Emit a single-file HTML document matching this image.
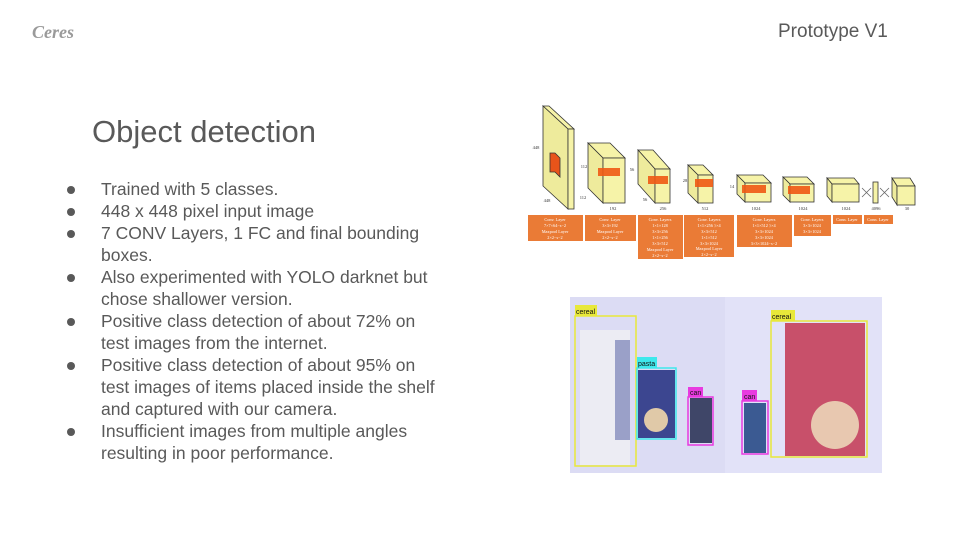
<!DOCTYPE html>
<html><head><meta charset="utf-8"><style>
body{margin:0;width:960px;height:540px;background:#fff;overflow:hidden;position:relative;font-family:"Liberation Sans",sans-serif}
.logo{position:absolute;left:32px;top:22px;font:italic bold 18px "Liberation Serif",serif;color:#9a9a9a}
.proto{position:absolute;left:778px;top:21px;font-size:19px;color:#595959}
h1{position:absolute;left:92px;top:114px;margin:0;font-weight:normal;font-size:31px;color:#595959}
ul{position:absolute;left:64px;top:178px;margin:0;padding:0;list-style:none;width:374px;font-size:17.5px;line-height:22px;color:#595959}
li{position:relative;padding-left:37px}
li:before{content:"";position:absolute;left:3px;top:8px;width:8px;height:8px;border-radius:50%;background:#595959}
svg{position:absolute;left:0;top:0}
</style></head><body>
<div class="logo">Ceres</div>
<div class="proto">Prototype V1</div>
<h1>Object detection</h1>
<ul>
<li>Trained with 5 classes.</li>
<li>448 x 448 pixel input image</li>
<li>7 CONV Layers, 1 FC and final bounding boxes.</li>
<li>Also experimented with YOLO darknet but chose shallower version.</li>
<li>Positive class detection of about 72% on test images from the internet.</li>
<li>Positive class detection of about 95% on test images of items placed inside the shelf and captured with our camera.</li>
<li>Insufficient images from multiple angles resulting in poor performance.</li>
</ul>
<svg width="960" height="540" font-family="Liberation Serif,serif">
<g stroke="#333" stroke-width="0.8" fill="#f6f3a8">
<polygon points="543,106 549,106 574,129 568,129"/>
<polygon points="543,106 568,129 568,209 543,186" fill="#eeeb9c"/>
<rect x="568" y="129" width="6" height="80"/>
<polygon points="550,153 555,153 560,158 560,177 555,172 550,172" fill="#e8541a"/>
<polygon points="588,143 610,143 625,158 603,158"/><polygon points="588,143 603,158 603,203 588,188" fill="#eeeb9c"/><rect x="603" y="158" width="22" height="45"/>
<polygon points="638,150 653,150 670,169 655,169"/><polygon points="638,150 655,169 655,203 638,184" fill="#eeeb9c"/><rect x="655" y="169" width="15" height="34"/>
<polygon points="688,165 703,165 713,175 698,175"/><polygon points="688,165 698,175 698,203 688,193" fill="#eeeb9c"/><rect x="698" y="175" width="15" height="28"/>
<polygon points="737,175 763,175 771,183 745,183"/><polygon points="737,175 745,183 745,202 737,194" fill="#eeeb9c"/><rect x="745" y="183" width="26" height="19"/>
<polygon points="783,177 807,177 814,184 790,184"/><polygon points="783,177 790,184 790,202 783,195" fill="#eeeb9c"/><rect x="790" y="184" width="24" height="18"/>
<polygon points="827,178 854,178 859,184 832,184"/><polygon points="827,178 832,184 832,202 827,196" fill="#eeeb9c"/><rect x="832" y="184" width="27" height="18"/>
<rect x="873" y="182" width="5" height="21"/>
<polygon points="892,178 910,178 915,186 897,186"/><polygon points="892,178 897,186 897,205 892,197" fill="#eeeb9c"/><rect x="897" y="186" width="18" height="19"/>
</g>
<g fill="#f05a14" opacity="0.9">
<rect x="598" y="168" width="22" height="8"/><rect x="648" y="176" width="20" height="8"/><rect x="695" y="179" width="18" height="8"/><rect x="742" y="185" width="24" height="8"/><rect x="788" y="186" width="22" height="8"/>
</g>
<g stroke="#666" stroke-width="0.8"><path d="M862,188 L871,197 M862,197 L871,188 M880,188 L889,197 M880,197 L889,188"/></g>
<g font-size="4.5" fill="#333" text-anchor="middle">
<text x="536" y="149">448</text><text x="547" y="202">448</text><text x="584" y="168">112</text><text x="583" y="199">112</text><text x="613" y="210">192</text>
<text x="632" y="171">56</text><text x="645" y="201">56</text><text x="663" y="210">256</text><text x="685" y="182">28</text><text x="705" y="210">512</text>
<text x="732" y="188">14</text><text x="756" y="210">1024</text><text x="803" y="210">1024</text><text x="846" y="210">1024</text><text x="876" y="210">4096</text><text x="907" y="210">30</text>
</g>
<g fill="#ea7b36">
<rect x="528" y="215" width="55" height="26"/><rect x="585" y="215" width="51" height="26"/><rect x="638" y="215" width="45" height="44"/><rect x="684" y="215" width="50" height="42"/><rect x="737" y="215" width="55" height="32"/><rect x="794" y="215" width="37" height="21"/><rect x="833" y="215" width="29" height="9"/><rect x="864" y="215" width="29" height="9"/>
</g>
<g font-size="4.3" fill="#fff" text-anchor="middle">
<text x="555" y="221">Conv. Layer</text><text x="555" y="227">7×7×64−s−2</text><text x="555" y="233">Maxpool Layer</text><text x="555" y="239">2×2−s−2</text>
<text x="610" y="221">Conv. Layer</text><text x="610" y="227">3×3×192</text><text x="610" y="233">Maxpool Layer</text><text x="610" y="239">2×2−s−2</text>
<text x="660" y="221">Conv. Layers</text><text x="660" y="227">1×1×128</text><text x="660" y="233">3×3×256</text><text x="660" y="239">1×1×256</text><text x="660" y="245">3×3×512</text><text x="660" y="251">Maxpool Layer</text><text x="660" y="257">2×2−s−2</text>
<text x="709" y="221">Conv. Layers</text><text x="709" y="227">1×1×256 }×4</text><text x="709" y="233">3×3×512</text><text x="709" y="239">1×1×512</text><text x="709" y="245">3×3×1024</text><text x="709" y="250">Maxpool Layer</text><text x="709" y="256">2×2−s−2</text>
<text x="764" y="221">Conv. Layers</text><text x="764" y="227">1×1×512 }×4</text><text x="764" y="233">3×3×1024</text><text x="764" y="239">3×3×1024</text><text x="764" y="245">3×3×1024−s−2</text>
<text x="812" y="221">Conv. Layers</text><text x="812" y="227">3×3×1024</text><text x="812" y="233">3×3×1024</text>
<text x="847" y="221">Conn. Layer</text><text x="878" y="221">Conn. Layer</text>
</g>
<rect x="570" y="297" width="312" height="176" fill="#e2e2f8"/>
<rect x="570" y="297" width="155" height="176" fill="#dcdcf4"/>
<rect x="580" y="330" width="50" height="135" fill="#ececf3"/>
<rect x="615" y="340" width="15" height="100" fill="#9aa0c8"/>
<rect x="638" y="370" width="37" height="68" fill="#3c4690"/>
<circle cx="656" cy="420" r="12" fill="#e0c9a8"/>
<rect x="690" y="398" width="22" height="45" fill="#3f4668"/>
<rect x="744" y="403" width="22" height="50" fill="#3b5a92"/>
<rect x="785" y="323" width="80" height="133" fill="#c8506a"/>
<circle cx="835" cy="425" r="24" fill="#e8c8b0"/>
<g fill="none" stroke-width="1.5">
<rect x="575" y="316" width="61" height="150" stroke="#e8e83a"/>
<rect x="771" y="321" width="96" height="136" stroke="#e8e83a"/>
<rect x="637" y="368" width="39" height="71" stroke="#3ee8ec"/>
<rect x="688" y="397" width="25" height="48" stroke="#e83ae0"/>
<rect x="742" y="401" width="26" height="53" stroke="#e83ae0"/>
</g>
<rect x="575" y="305" width="22" height="11" fill="#e8e83a"/><rect x="771" y="310" width="24" height="11" fill="#e8e83a"/>
<rect x="637" y="357" width="20" height="11" fill="#3ee8ec"/><rect x="688" y="387" width="15" height="10" fill="#e83ae0"/><rect x="742" y="390" width="15" height="11" fill="#e83ae0"/>
<g font-family="Liberation Sans,sans-serif" font-size="7" fill="#111">
<text x="576" y="314">cereal</text><text x="772" y="319">cereal</text><text x="638" y="366">pasta</text><text x="690" y="395">can</text><text x="744" y="399">can</text>
</g>
</svg>
</body></html>
